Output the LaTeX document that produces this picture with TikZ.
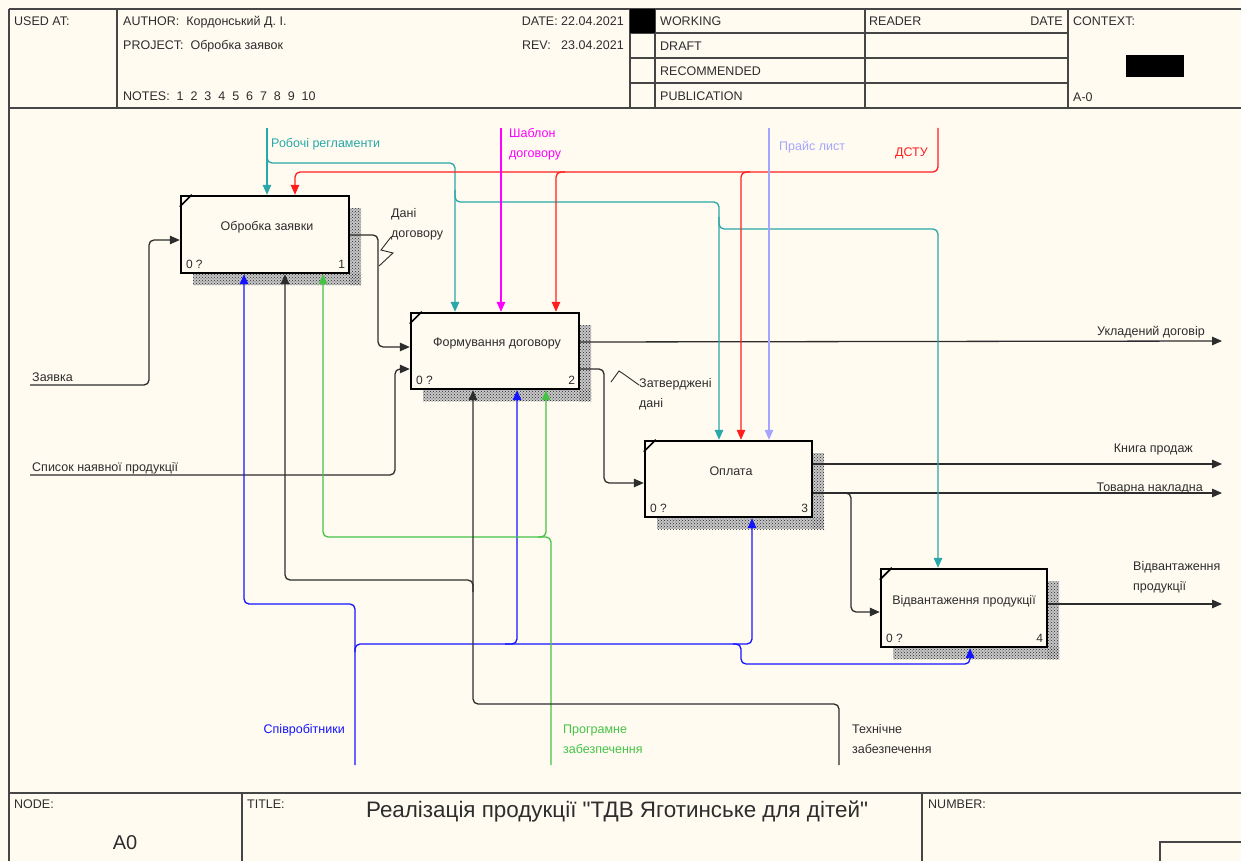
\documentclass[tikz,border=0pt]{standalone}
\usepackage{fontspec}
\setmainfont{Liberation Sans}
\newfontfamily\plainfont{Liberation Sans}
\usetikzlibrary{arrows.meta,patterns,calc}
\definecolor{bg}{RGB}{255,251,241}
\definecolor{frm}{RGB}{70,70,70}
\definecolor{dk}{RGB}{45,45,45}
\definecolor{teal}{RGB}{40,168,168}
\definecolor{rd}{RGB}{255,30,30}
\definecolor{mg}{RGB}{255,0,255}
\definecolor{lav}{RGB}{165,165,255}
\definecolor{bl}{RGB}{20,20,255}
\definecolor{gr}{RGB}{70,195,70}
\tikzset{
  frame/.style={draw=frm,line width=1.3pt},
  hdr/.style={font=\fontsize{12.5}{14}\selectfont,inner sep=0pt,text=dk,anchor=base west},
  lbl/.style={font=\fontsize{12.5}{20}\selectfont,inner sep=0pt,text=dk,anchor=base west,align=left},
  procbox/.style={draw=black,line width=2.4pt,fill=bg,inner sep=0pt},
  boxtxt/.style={font=\fontsize{12.5}{14}\selectfont,inner sep=0pt,text=dk},
  numtxt/.style={font=\fontsize{12}{14}\selectfont,inner sep=0pt,text=dk},
  flow/.style={line width=1.3pt,rounded corners=5pt,-{Triangle[length=10pt,width=8.5pt]}},
  shadebase/.style={fill=black!22},
  shade/.style={pattern=crosshatch dots,pattern color=black!85}
}
\begin{document}
\begin{tikzpicture}[x=1pt,y=-1pt]
\useasboundingbox (0,0) rectangle (1241,861);
\fill[bg] (0,0) rectangle (1241,861);
% ---------- header frame
\draw[frame] (9,9) -- (1241,9);
\draw[frame] (9,9) -- (9,861);
\draw[frame] (9,108) -- (1241,108);
\foreach \xx in {117,630,655,865,1068} \draw[frame] (\xx,9) -- (\xx,108);
\foreach \yy in {33,58,83} \draw[frame] (630,\yy) -- (1068,\yy);
\fill[black] (630,9) rectangle (655,33);
\fill[black] (1126,55) rectangle (1184,77);
\node[hdr] (usedat) at (14,25.5) {USED AT:};
\node[hdr] (author) at (123,25.5) {AUTHOR:\ \ Кордонський Д. І.};
\node[hdr] (project) at (123,49.5) {PROJECT:\ \ Обробка заявок};
\node[hdr] (notes) at (123,100.5) {NOTES:\ \ 1\ \ 2\ \ 3\ \ 4\ \ 5\ \ 6\ \ 7\ \ 8\ \ 9\ \ 10};
\node[hdr,anchor=base east] (date) at (624,25.5) {DATE:\ 22.04.2021};
\node[hdr,anchor=base east] (rev) at (624,49.5) {REV:\ \ \ 23.04.2021};
\node[hdr] (working) at (660,25.5) {WORKING};
\node[hdr] (draft) at (660,50.5) {DRAFT};
\node[hdr] (recom) at (660,75.5) {RECOMMENDED};
\node[hdr] (publ) at (660,100.5) {PUBLICATION};
\node[hdr] (reader) at (869,25.5) {READER};
\node[hdr,anchor=base east] (rdate) at (1063,25.5) {DATE};
\node[hdr] (context) at (1073,25.5) {CONTEXT:};
\node[hdr] (actx) at (1073,101.5) {A-0};
% ---------- footer frame
\draw[frame] (9,793) -- (1241,793);
\draw[frame] (242,793) -- (242,861);
\draw[frame] (922,793) -- (922,861);
\draw[frame] (1160,861) -- (1160,842) -- (1241,842);
\node[hdr] (nodelbl) at (14,808) {NODE:};
\node[hdr] (titlelbl) at (247,808) {TITLE:};
\node[hdr] (numlbl) at (928,808) {NUMBER:};
\node[inner sep=0pt,text=dk,font=\plainfont\fontsize{22.4}{24}\selectfont] (title) at (617,812) {Реалізація продукції "ТДВ Яготинське для дітей"};
\node[inner sep=0pt,text=dk,font=\fontsize{20}{22}\selectfont] (nodeA) at (125,843) {A0};
% ---------- shadows
\foreach \c/\w/\h in {{265,234.5}/168/77,{495,351}/168/76,{728.5,479}/167/76,{964,608}/166/78}{
  \path (\c) coordinate (cc);
  \fill[shadebase] ($(cc)+(\w/2,-\h/2+12)$) rectangle ($(cc)+(\w/2+12,\h/2+12)$);
  \fill[shadebase] ($(cc)+(-\w/2+12,\h/2)$) rectangle ($(cc)+(\w/2+12,\h/2+12)$);
  \fill[shade] ($(cc)+(\w/2,-\h/2+12)$) rectangle ($(cc)+(\w/2+12,\h/2+12)$);
  \fill[shade] ($(cc)+(-\w/2+12,\h/2)$) rectangle ($(cc)+(\w/2+12,\h/2+12)$);
}
% ---------- boxes
\node[procbox,minimum width=168pt,minimum height=77pt] (b1) at (265,234.5) {};
\node[procbox,minimum width=168pt,minimum height=76pt] (b2) at (495,351) {};
\node[procbox,minimum width=167pt,minimum height=76pt] (b3) at (728.5,479) {};
\node[procbox,minimum width=166pt,minimum height=78pt] (b4) at (964,608) {};
\foreach \b in {b1,b2,b3,b4}{
  \draw[line width=1.6pt] ($(\b.north west)+(0,12)$) -- ($(\b.north west)+(12,0)$);
  \node[numtxt,anchor=base west] at ($(\b.south west)+(6,-6)$) {0 ?};
}
\node[numtxt,anchor=base east] (n1) at ($(b1.south east)+(-5,-6)$) {1};
\node[numtxt,anchor=base east] (n2) at ($(b2.south east)+(-5,-6)$) {2};
\node[numtxt,anchor=base east] (n3) at ($(b3.south east)+(-5,-6)$) {3};
\node[numtxt,anchor=base east] (n4) at ($(b4.south east)+(-5,-6)$) {4};
\node[boxtxt] (b1t) at (267,227) {Обробка заявки};
\node[boxtxt] (b2t) at (497,343) {Формування договору};
\node[boxtxt] (b3t) at (731,471) {Оплата};
\node[boxtxt] (b4t) at (964,601) {Відвантаження продукції};
% ---------- free ends
\coordinate (inZ) at (30,385);
\coordinate (inS) at (30,475);
\coordinate (outU) at (1222,341);
\coordinate (outK) at (1222,464);
\coordinate (outT) at (1222,493);
\coordinate (outV) at (1222,604);
\coordinate (cR) at (267,128);
\coordinate (cD) at (938,128);
\coordinate (cS) at (501,128);
\coordinate (cP) at (769,128);
\coordinate (mS) at (355,765);
\coordinate (mP) at (551,765);
\coordinate (mT) at (839,765);
% ---------- inputs / outputs (black)
\begin{scope}[draw=dk]
\draw[flow] (inZ) -- (149,385) -- (149,240) -- (b1.west |- 0,240);
\draw[flow] (b1.east |- 0,235) -- (378,235) -- (378,347) -- (b2.west |- 0,347);
\draw[flow] (inS) -- (395,475) -- (395,369) -- (b2.west |- 0,369);
\draw[flow] (b2.east |- 0,342) -- (outU);
\draw[flow] (b2.east |- 0,369) -- (604,369) -- (604,483) -- (b3.west |- 0,483);
\draw[flow] (b3.east |- 0,464) -- (outK);
\draw[flow] (b3.east |- 0,493) -- (outT);
\draw[flow] (844,493) -- (851,493) -- (851,612) -- (b4.west |- 0,612);
\draw[flow] (b4.east |- 0,604) -- (outV);
\draw[line width=0.9pt] (391,237) -- (381,250) -- (393,253) -- (379,266);
\draw[line width=0.9pt] (611,382) -- (619,371) -- (625,375) -- (639,385);
\end{scope}
\node[lbl] (lZ) at (32,381.5) {Заявка};
\node[lbl] (lS) at (32,471.5) {Список наявної продукції};
\node[lbl,anchor=north west] (lD) at (391,208.5) {Дані\\договору};
\node[lbl,anchor=north west] (lZD) at (639,378.5) {Затверджені\\дані};
\node[lbl,anchor=base east] (lU) at (1205,335.5) {Укладений договір};
\node[lbl,anchor=base east] (lK) at (1193,452.5) {Книга продаж};
\node[lbl,anchor=base east] (lT) at (1203,491) {Товарна накладна};
\node[lbl,anchor=north west] (lV) at (1133,561.5) {Відвантаження\\продукції};
% ---------- controls
\draw[flow,draw=teal] (cR) -- (b1.north -| cR);
\draw[flow,draw=teal] (267,150) -- (267,163) -- (455,163) -- (b2.north -| 455,0);
\draw[flow,draw=teal] (455,190) -- (455,202) -- (719,202) -- (b3.north -| 719,0);
\draw[flow,draw=teal] (719,217) -- (719,229) -- (938,229) -- (b4.north -| 938,0);
\node[lbl,text=teal] (lR) at (271,147.5) {Робочі регламенти};
\draw[flow,draw=rd] (cD) -- (938,172) -- (295,172) -- (b1.north -| 295,0);
\draw[flow,draw=rd] (565,172) -- (556,172) -- (b2.north -| 556,0);
\draw[flow,draw=rd] (750,172) -- (741,172) -- (b3.north -| 741,0);
\node[lbl,text=rd,anchor=base east] (lD2) at (928,156.5) {ДСТУ};
\draw[flow,draw=mg] (cS) -- (b2.north -| cS);
\node[lbl,text=mg,anchor=north west] (lSh) at (509,128.5) {Шаблон\\договору};
\draw[flow,draw=lav] (cP) -- (b3.north -| cP);
\node[lbl,text=lav] (lP) at (779,150.5) {Прайс лист};
% ---------- mechanisms
\draw[flow,draw=bl] (mS) -- (355,644) -- (752,644) -- (b3.south -| 752,0);
\draw[flow,draw=bl] (355,652) -- (355,604) -- (244,604) -- (b1.south -| 244,0);
\draw[flow,draw=bl] (505,644) -- (517,644) -- (517,0 |- b2.south);
\draw[flow,draw=bl] (733,644) -- (741,644) -- (741,664) -- (970,664) -- (b4.south -| 970,0);
\node[lbl,text=bl,anchor=base east] (lSp) at (345,733.5) {Співробітники};
\draw[flow,draw=gr] (mP) -- (551,537) -- (323,537) -- (b1.south -| 323,0);
\draw[flow,draw=gr] (538,537) -- (546,537) -- (b2.south -| 546,0);
\node[lbl,text=gr,anchor=north west] (lPr) at (563,724.5) {Програмне\\забезпечення};
\draw[flow,draw=dk] (mT) -- (839,704) -- (473,704) -- (b2.south -| 473,0);
\draw[flow,draw=dk] (473,592) -- (473,580) -- (285,580) -- (b1.south -| 285,0);
\node[lbl,anchor=north west] (lTe) at (852,724.5) {Технічне\\забезпечення};
\end{tikzpicture}
\end{document}
